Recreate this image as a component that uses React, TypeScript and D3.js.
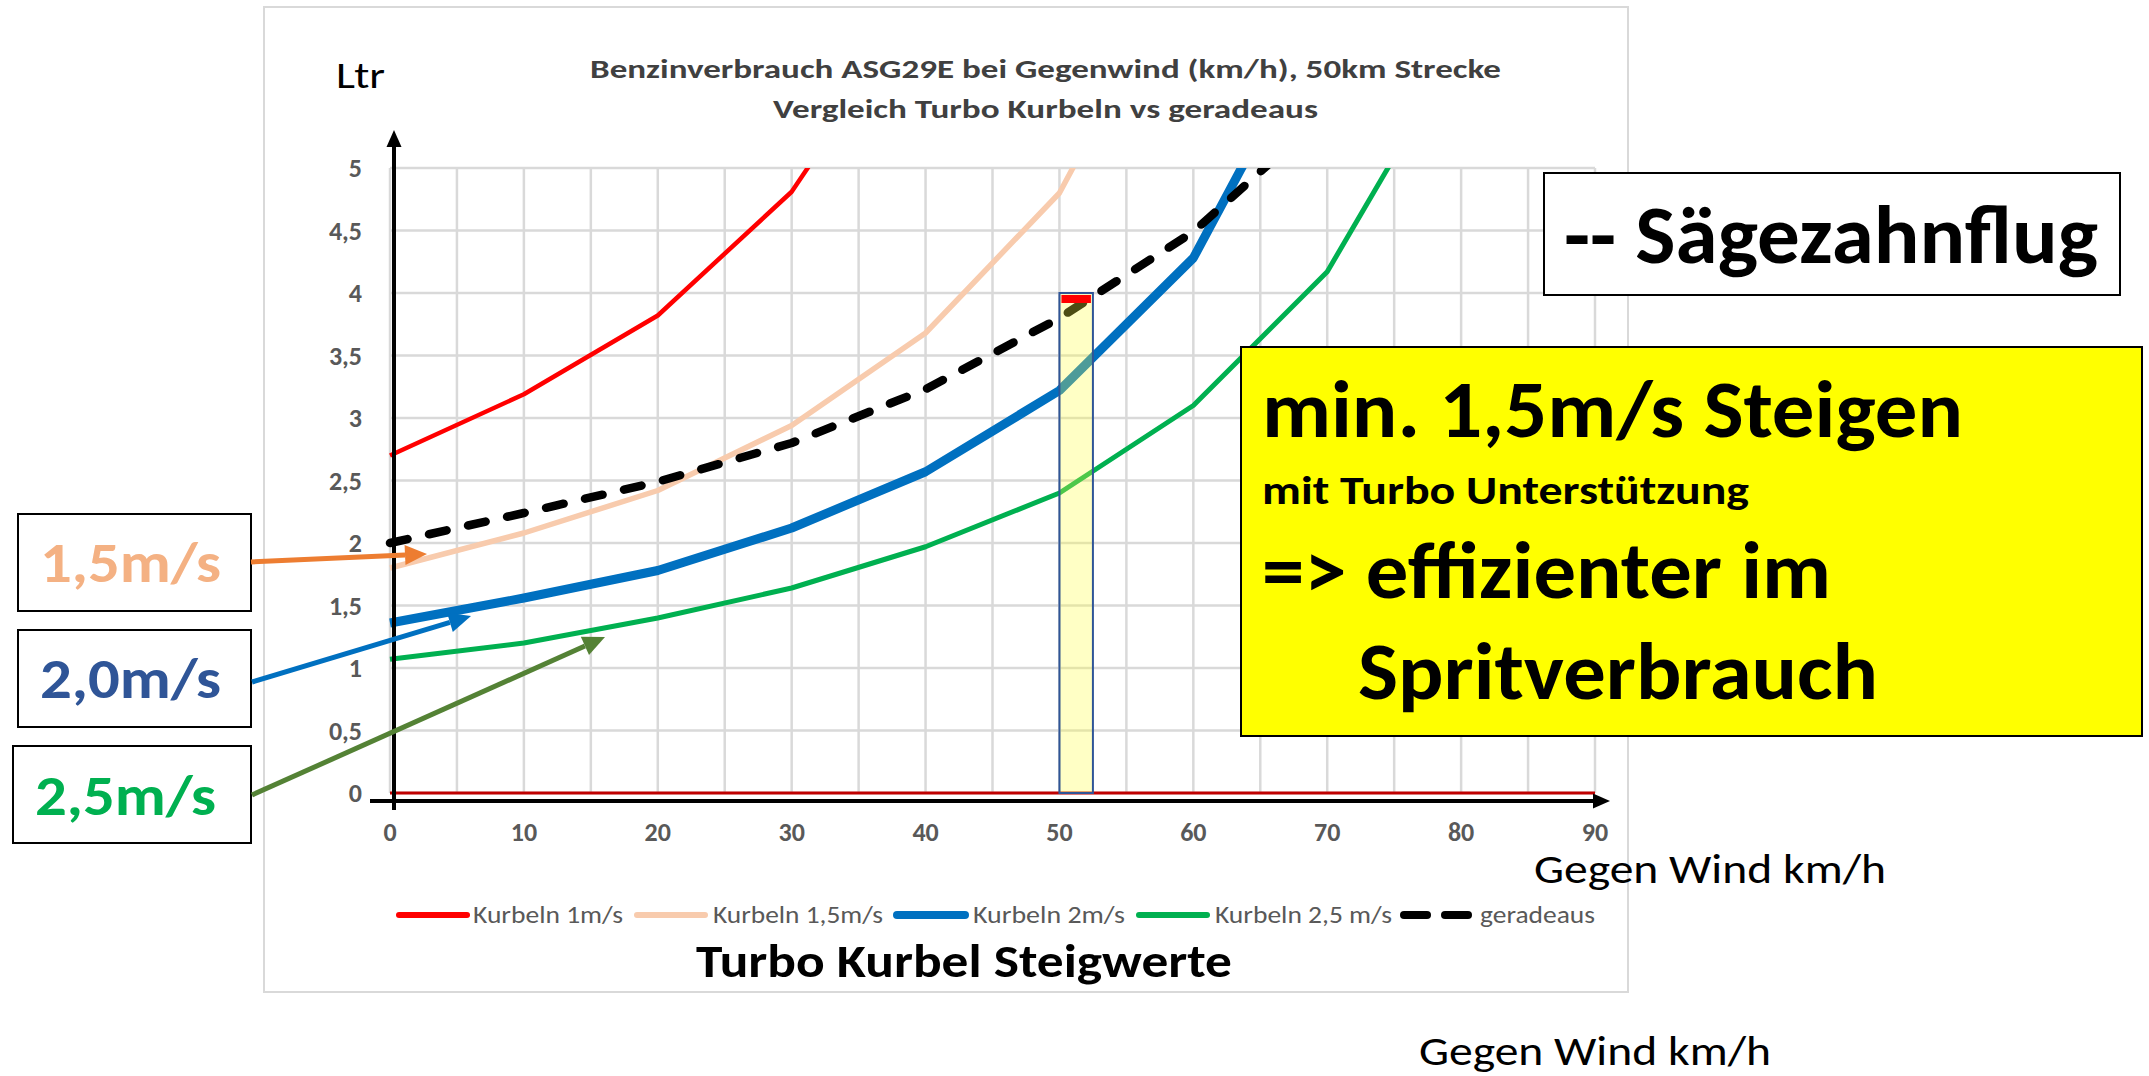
import * as d3 from "d3";

// wind (km/h) categories and litres per series
const WIND = [0, 10, 20, 30, 40, 50, 60, 70, 80, 90];
const KURBELN_1 = [2.7, 3.19, 3.82, 4.81, 6.4];
const KURBELN_15 = [1.8, 2.08, 2.42, 2.94, 3.68, 4.8, 6.8];
const KURBELN_2 = [1.36, 1.56, 1.78, 2.12, 2.57, 3.22, 4.28, 6.28];
const KURBELN_25 = [1.07, 1.2, 1.4, 1.64, 1.97, 2.4, 3.1, 4.17, 6.0];
const GERADEAUS = [2.0, 2.24, 2.49, 2.8, 3.23, 3.8, 4.49, 5.45];
const ZERO_LINE = [0, 0];
const ZERO_X = [0, 90];

const SERIES_NAMES = ["Kurbeln 1m/s", "Kurbeln 1,5m/s", "Kurbeln 2m/s", "Kurbeln 2,5 m/s", "geradeaus"];

const Y_TICKS = [0, 0.5, 1, 1.5, 2, 2.5, 3, 3.5, 4, 4.5, 5];
const X_GRID = d3.range(0, 95, 5);

// highlighted column at 50 km/h
const HIGHLIGHT_X = [50, 52.5];
const HIGHLIGHT_TOP = 4;

const FONT = "Carlito, Calibri, Lato, 'Open Sans', sans-serif";

const W = 2149;
const H = 1076;

const x = d3.scaleLinear().domain([0, 90]).range([390, 1595]);
const y = d3.scaleLinear().domain([0, 5]).range([793, 168]);

const lineGen = d3
  .line<number>()
  .x((_, i) => x(WIND[i]))
  .y((d) => y(d));

const series = [
  { name: SERIES_NAMES[0], values: KURBELN_1, color: "#FF0000", width: 4.5, dash: null },
  { name: SERIES_NAMES[1], values: KURBELN_15, color: "#F8CBAD", width: 5.5, dash: null },
  { name: SERIES_NAMES[2], values: KURBELN_2, color: "#0070C0", width: 9, dash: null },
  { name: SERIES_NAMES[3], values: KURBELN_25, color: "#00B050", width: 5, dash: null },
  { name: SERIES_NAMES[4], values: GERADEAUS, color: "#000000", width: 8.5, dash: "18,22" },
];

// legend layout: swatch start and text start
const LEGEND_SWATCH = [397, 635, 895, 1137, 1400];
const LEGEND_TEXT = [473, 713, 973, 1215, 1480];
const LEGEND_TEXT_W = [150, 170, 152, 177, 115];

function fmt(v: number) {
  return String(v).replace(".", ",");
}

function Arrow({ x1, y1, x2, y2, color, w = 5, head = 22, half = 10 }: any) {
  const a = Math.atan2(y2 - y1, x2 - x1);
  const bx = x2 - head * Math.cos(a);
  const by = y2 - head * Math.sin(a);
  const px = -Math.sin(a) * half;
  const py = Math.cos(a) * half;
  return (
    <g>
      <line x1={x1} y1={y1} x2={bx} y2={by} stroke={color} strokeWidth={w} />
      <polygon points={`${x2},${y2} ${bx + px},${by + py} ${bx - px},${by - py}`} fill={color} />
    </g>
  );
}

export default function App() {
  const [hx0, hx1] = HIGHLIGHT_X;
  return (
    <svg
      width={W}
      height={H}
      viewBox={`0 0 ${W} ${H}`}
      style={{ position: "absolute", left: 0, top: 0, background: "#fff" }}
      fontFamily={FONT}
    >
      <defs>
        <clipPath id="plot">
          <rect x={x(0) - 10} y={y(5)} width={x(90) - x(0) + 20} height={y(0) - y(5) + 20} />
        </clipPath>
      </defs>
      <rect x={0} y={0} width={W} height={H} fill="#fff" />

      {/* chart frame */}
      <rect x={264} y={7} width={1364} height={985} fill="#fff" stroke="#D9D9D9" strokeWidth={2} />

      {/* gridlines */}
      <g stroke="#D9D9D9" strokeWidth={2.5}>
        {X_GRID.map((v) => (
          <line key={"gx" + v} x1={x(v)} x2={x(v)} y1={y(0)} y2={y(5)} />
        ))}
        {Y_TICKS.map((v) => (
          <line key={"gy" + v} x1={x(0)} x2={x(90)} y1={y(v)} y2={y(v)} />
        ))}
      </g>

      {/* zero line */}
      <line x1={x(ZERO_X[0])} x2={x(ZERO_X[1])} y1={y(ZERO_LINE[0])} y2={y(ZERO_LINE[1])} stroke="#C00000" strokeWidth={3} />

      {/* series */}
      <g clipPath="url(#plot)" fill="none">
        {series.map((s) => (
          <path
            key={s.name}
            d={lineGen(s.values) || ""}
            stroke={s.color}
            strokeWidth={s.width}
            strokeDasharray={s.dash || undefined}
            strokeLinecap={s.dash ? "round" : "butt"}
            strokeLinejoin="round"
          />
        ))}
      </g>

      {/* highlight column */}
      <rect
        x={x(hx0)}
        y={y(HIGHLIGHT_TOP)}
        width={x(hx1) - x(hx0)}
        height={y(0) - y(HIGHLIGHT_TOP)}
        fill="#FFFF40"
        fillOpacity={0.3}
        stroke="#2F5597"
        strokeWidth={2}
      />
      <rect x={x(hx0) + 2} y={y(HIGHLIGHT_TOP) + 2} width={x(hx1) - x(hx0) - 4} height={8} fill="#FF0000" />

      {/* axes with arrows */}
      <line x1={394} x2={394} y1={810} y2={144} stroke="#000" strokeWidth={4} />
      <polygon points="394,130 386.5,147 401.5,147" fill="#000" />
      <line x1={370} x2={1595} y1={801} y2={801} stroke="#000" strokeWidth={4} />
      <polygon points="1610,801 1593,793.5 1593,808.5" fill="#000" />

      {/* tick labels */}
      <g fill="#595959" fontWeight="bold" fontSize={26}>
        {Y_TICKS.map((v) => (
          <text key={"yt" + v} x={362} y={y(v) + 9} textAnchor="end">
            {fmt(v)}
          </text>
        ))}
        {WIND.map((v) => (
          <text key={"xt" + v} x={x(v)} y={841} textAnchor="middle">
            {v}
          </text>
        ))}
      </g>

      {/* titles */}
      <g fill="#404040" fontWeight="bold" fontSize={26}>
        <text x={590} y={78} textLength={911} lengthAdjust="spacingAndGlyphs">
          Benzinverbrauch ASG29E bei Gegenwind (km/h), 50km Strecke
        </text>
        <text x={773} y={118} textLength={545} lengthAdjust="spacingAndGlyphs">
          Vergleich Turbo Kurbeln vs geradeaus
        </text>
      </g>
      <text x={336} y={88} fontSize={36} textLength={49} lengthAdjust="spacingAndGlyphs" fill="#000">
        Ltr
      </text>
      <text x={1534} y={883} fontSize={40} textLength={352} lengthAdjust="spacingAndGlyphs" fill="#000">
        Gegen Wind km/h
      </text>
      <text x={1419} y={1065} fontSize={40} textLength={352} lengthAdjust="spacingAndGlyphs" fill="#000">
        Gegen Wind km/h
      </text>

      {/* legend */}
      <g>
        {series.map((s, i) =>
          s.dash ? (
            <g key={"lg" + i} stroke={s.color} strokeWidth={8} strokeLinecap="round">
              <line x1={LEGEND_SWATCH[i] + 4} x2={LEGEND_SWATCH[i] + 27} y1={915} y2={915} />
              <line x1={LEGEND_SWATCH[i] + 45} x2={LEGEND_SWATCH[i] + 68} y1={915} y2={915} />
            </g>
          ) : (
            <line
              key={"lg" + i}
              x1={LEGEND_SWATCH[i] + 2}
              x2={LEGEND_SWATCH[i] + 70}
              y1={915}
              y2={915}
              stroke={s.color}
              strokeWidth={s.width < 6 ? 6 : 8}
              strokeLinecap="round"
            />
          )
        )}
        {series.map((s, i) => (
          <text
            key={"lt" + i}
            x={LEGEND_TEXT[i]}
            y={923}
            fontSize={24}
            fill="#595959"
            textLength={LEGEND_TEXT_W[i]}
            lengthAdjust="spacingAndGlyphs"
          >
            {s.name}
          </text>
        ))}
      </g>
      <text x={696} y={977} fontSize={47} fontWeight="bold" fill="#000" textLength={536} lengthAdjust="spacingAndGlyphs">
        Turbo Kurbel Steigwerte
      </text>

      {/* left call-out boxes */}
      <g fontWeight="bold" fontSize={56}>
        <rect x={18} y={514} width={233} height={97} fill="#fff" stroke="#000" strokeWidth={2} />
        <text x={40} y={582} fill="#F4B183" textLength={181} lengthAdjust="spacingAndGlyphs">
          1,5m/s
        </text>
        <rect x={18} y={630} width={233} height={97} fill="#fff" stroke="#000" strokeWidth={2} />
        <text x={40} y={698} fill="#2F5597" textLength={181} lengthAdjust="spacingAndGlyphs">
          2,0m/s
        </text>
        <rect x={13} y={746} width={238} height={97} fill="#fff" stroke="#000" strokeWidth={2} />
        <text x={35} y={815} fill="#00B050" textLength={181} lengthAdjust="spacingAndGlyphs">
          2,5m/s
        </text>
      </g>
      <Arrow x1={251} y1={562} x2={427} y2={554} color="#ED7D31" />
      <Arrow x1={252} y1={682} x2={471} y2={616} color="#0070C0" />
      <Arrow x1={252} y1={795} x2={605} y2={637} color="#548235" />

      {/* Sägezahnflug box */}
      <rect x={1544} y={173} width={576} height={122} fill="#fff" stroke="#000" strokeWidth={2} />
      <text x={1564} y={263} fontSize={82} fontWeight="bold" fill="#000" textLength={534} lengthAdjust="spacingAndGlyphs">
        -- Sägezahnflug
      </text>

      {/* yellow note */}
      <rect x={1241} y={347} width={901} height={389} fill="#FFFF00" stroke="#000" strokeWidth={2} />
      <g fill="#000" fontWeight="bold">
        <text x={1262} y={437} fontSize={80} textLength={701} lengthAdjust="spacingAndGlyphs">
          min. 1,5m/s Steigen
        </text>
        <text x={1262} y={504} fontSize={40} textLength={487} lengthAdjust="spacingAndGlyphs">
          mit Turbo Unterstützung
        </text>
        <text x={1262} y={598} fontSize={80} textLength={569} lengthAdjust="spacingAndGlyphs">
          {"=> effizienter im"}
        </text>
        <text x={1358} y={699} fontSize={80} textLength={520} lengthAdjust="spacingAndGlyphs">
          Spritverbrauch
        </text>
      </g>
    </svg>
  );
}
